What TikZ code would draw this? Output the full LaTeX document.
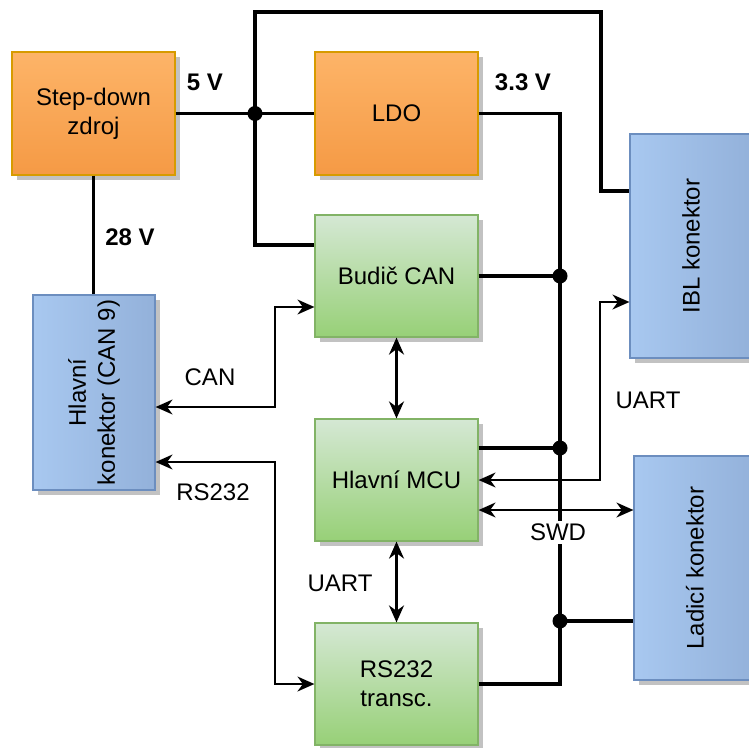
\documentclass[tikz,border=0pt]{standalone}
\usepackage{fontspec}
\setmainfont{Liberation Sans}
\usetikzlibrary{arrows.meta,shadows}
\definecolor{orTop}{HTML}{FDB468}
\definecolor{orBot}{HTML}{F59A45}
\definecolor{orLine}{HTML}{D79B00}
\definecolor{grTop}{HTML}{D5E8D4}
\definecolor{grBot}{HTML}{97D077}
\definecolor{grLine}{HTML}{82B366}
\definecolor{blLeft}{HTML}{A8C8F0}
\definecolor{blRight}{HTML}{93B1DA}
\definecolor{blLine}{HTML}{6C8EBF}
\begin{document}
\begin{tikzpicture}[x=1pt,y=-1pt,
  font=\fontsize{24}{29}\selectfont,
  shad/.style={drop shadow={shadow xshift=5pt,shadow yshift=-5pt,fill=black!24,opacity=1}},
  orbox/.style={shad,draw=orLine,line width=1.2pt,top color=orTop,bottom color=orBot,minimum width=163pt,minimum height=123pt,align=center,inner sep=0pt},
  grbox/.style={shad,draw=grLine,line width=1.2pt,top color=grTop,bottom color=grBot,minimum width=163pt,minimum height=122pt,align=center,inner sep=0pt},
  blbox/.style={shad,draw=blLine,line width=1.2pt,left color=blLeft,right color=blRight,minimum width=122pt,inner sep=0pt},
  rtext/.style={rotate=90,align=center,inner sep=0pt},
  pw/.style={line width=3.4pt},
  tip/.tip={Stealth[length=17pt,width=15pt,inset=5.5pt]},
  sg/.style={line width=1.6pt,{tip}-{tip}},
  sgb/.style={line width=2.2pt,{tip}-{tip}},
  jdot/.style={circle,fill=black,minimum size=15pt,inner sep=0pt},
  lbl/.style={inner sep=1pt},
  blbl/.style={inner sep=1pt,font=\fontsize{24}{29}\selectfont\bfseries}
]
\useasboundingbox (0,0) rectangle (749,747);

% boxes
\node[orbox] (sd) at (93.5,113.5) {Step-down\\zdroj};
\node[orbox] (ldo) at (396.5,113.5) {LDO};
\node[grbox] (bud) at (396.5,276) {Budič CAN};
\node[grbox] (mcu) at (396.5,480) {Hlavní MCU};
\node[grbox] (rs) at (396.5,684) {RS232\\transc.};
\node[blbox,minimum height=195pt] (hk) at (94,392.5) {};
\node[rtext] (hkt) at (hk.center) {Hlavní\\konektor (CAN 9)};
\node[blbox,minimum height=224pt] (ibl) at (691,246) {};
\node[rtext] (iblt) at (ibl.center) {IBL konektor};
\node[blbox,minimum height=224pt] (lad) at (695,568) {};
\node[rtext] (ladt) at (lad.center) {Ladicí konektor};

% junctions
\coordinate (j5) at (255,113.5);
\coordinate (b1) at (560,276);
\coordinate (b2) at (560,448);
\coordinate (b3) at (560,621);

% 28 V
\draw[pw] (sd.south) -- (sd.south |- hk.north);
% 5 V
\draw[pw] (sd.east) -- (j5) -- (ldo.west);
\draw[pw] (j5) -- (255,245) -- ([yshift=31pt]bud.west);
\draw[pw] (j5) -- (255,12) -- (601,12) -- (601,191) -- ([yshift=55pt]ibl.west);
% 3.3 V
\draw[pw] (ldo.east) -- (560,113.5) -- (560,684) -- (rs.east);
\draw[pw] (bud.east) -- (b1);
\draw[pw] ([yshift=32pt]mcu.east) -- (b2);
\draw[pw] (b3) -- ([yshift=-53pt]lad.west);

% signals
\draw[sg] ([yshift=-14.5pt]hk.east) -| (275,307) -- ([yshift=-31pt]bud.west);
\draw[sg] ([yshift=-69.5pt]hk.east) -| (275,684) -- (rs.west);
\draw[sgb] (bud.south) -- (mcu.north);
\draw[sgb] (mcu.south) -- (rs.north);
\draw[sg] ([yshift=-56pt]ibl.west) -- (600,302) -- (600,480) -- (mcu.east);
\draw[sg] ([yshift=-30pt]mcu.east) -- ([yshift=-30pt]mcu.east -| lad.west);

% dots
\node[jdot] (d0) at (j5) {};
\node[jdot] (d1) at (b1) {};
\node[jdot] (d2) at (b2) {};
\node[jdot] (d3) at (b3) {};

% labels
\node[blbl] (l5) at (205,82) {5 V};
\node[blbl] (l33) at (523,82) {3.3 V};
\node[blbl] (l28) at (130,237) {28 V};
\node[lbl] (lcan) at (210,377) {CAN};
\node[lbl] (lrs) at (213,492) {RS232};
\node[lbl] (lu1) at (340,583) {UART};
\node[lbl] (lu2) at (648,400) {UART};
\node[lbl,fill=white,inner sep=3pt] (lswd) at (558,532) {SWD};
\end{tikzpicture}
\end{document}
